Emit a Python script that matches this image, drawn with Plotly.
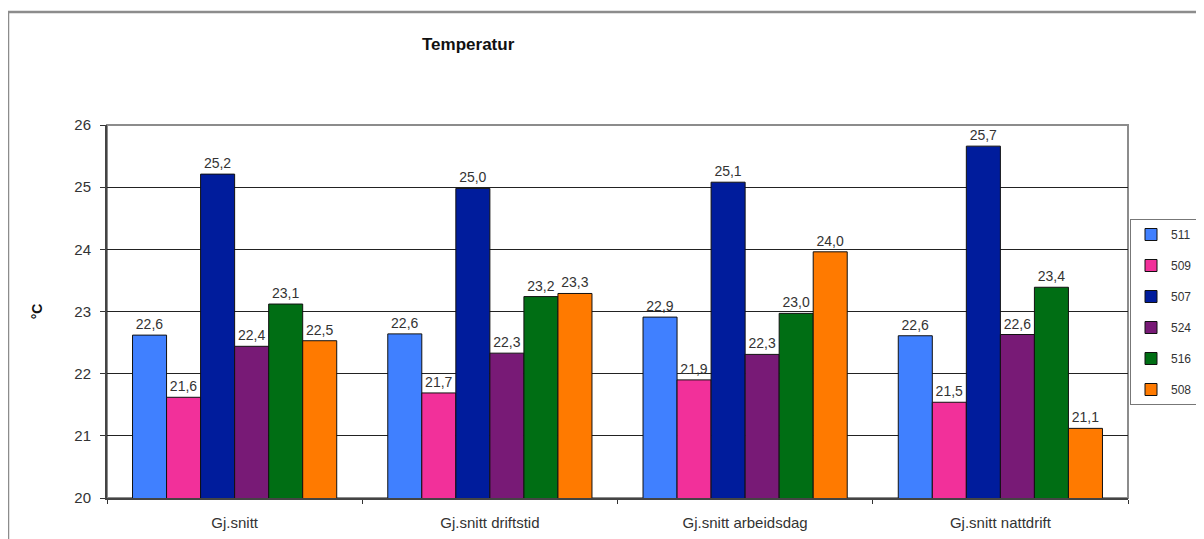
import plotly.graph_objects as go

categories = ["Gj.snitt", "Gj.snitt driftstid", "Gj.snitt arbeidsdag", "Gj.snitt nattdrift"]
series_names = ["511", "509", "507", "524", "516", "508"]
v511 = [22.62, 22.64, 22.91, 22.61]
v509 = [21.62, 21.69, 21.90, 21.54]
v507 = [25.21, 24.98, 25.08, 25.66]
v524 = [22.44, 22.33, 22.31, 22.63]
v516 = [23.12, 23.24, 22.97, 23.39]
v508 = [22.53, 23.29, 23.96, 21.12]
series_values = [v511, v509, v507, v524, v516, v508]
colors = ["#4080FF", "#F2309A", "#001C9C", "#781A76", "#006E14", "#FF7A00"]
y_ticks = [20, 21, 22, 23, 24, 25, 26]

FIG_W, FIG_H = 1196, 531  # page body adds an 8px offset inside the 1204x539 window

fig = go.Figure()
for name, vals, col in zip(series_names, series_values, colors):
    fig.add_trace(go.Bar(
        x=categories, y=vals, name=name, legendgroup=name,
        marker=dict(color=col, line=dict(color="#111111", width=1)),
        text=vals, texttemplate="%{y:.1f}", textposition="outside",
        textfont=dict(size=14, color="#333333", family="Liberation Sans"),
        constraintext="none", cliponaxis=False,
    ))

fig.update_layout(
    width=FIG_W, height=FIG_H,
    margin=dict(l=99, r=76, t=117, b=41),
    paper_bgcolor="white", plot_bgcolor="white",
    separators=", ",
    barmode="group", bargap=0.2, bargroupgap=0,
    font=dict(family="Liberation Sans", size=14, color="#333333"),
    showlegend=True,
    legend=dict(
        xref="container", yref="container",
        x=(1130 - 8) / FIG_W, xanchor="left",
        y=1 - (312 - 8) / FIG_H, yanchor="middle",
        bordercolor="#777777", borderwidth=1, itemwidth=30,
        font=dict(size=12, color="#333333"), tracegroupgap=12,
    ),
    annotations=[
        dict(text="<b>Temperatur</b>", xref="paper", yref="paper",
             x=(468 - 107) / 1021, y=(498 - 44) / 373, showarrow=False,
             font=dict(size=17, color="#111111"), xanchor="center", yanchor="middle"),
    ],
    shapes=[
        dict(type="rect", xref="paper", yref="paper",
             x0=(8 - 107) / 1021, x1=1.3, y0=-0.3, y1=(498 - 12) / 373,
             line=dict(color="#8C8C8C", width=2.5), layer="below"),
        dict(type="rect", xref="paper", yref="paper", x0=0, x1=1, y0=0, y1=1,
             line=dict(color="#8C8C8C", width=2), layer="below"),
    ],
)

fig.update_yaxes(
    range=[20, 26], tickvals=y_ticks, ticks="outside", ticklen=5,
    tickcolor="#333333", showgrid=True, gridcolor="#222222", gridwidth=1,
    showline=True, linecolor="#444444", linewidth=2,
    tickfont=dict(size=15, color="#333333"), ticklabelstandoff=6,
    title=dict(text="<b>°C</b>", standoff=28, font=dict(size=14, color="#111111")),
    zeroline=False, automargin=False,
)
fig.update_xaxes(
    ticks="outside", tickson="boundaries", ticklen=4, tickcolor="#333333",
    showline=True, linecolor="#444444", linewidth=2,
    tickfont=dict(size=15, color="#333333"), ticklabelstandoff=10,
    automargin=False,
)

fig.write_html("out.html")
